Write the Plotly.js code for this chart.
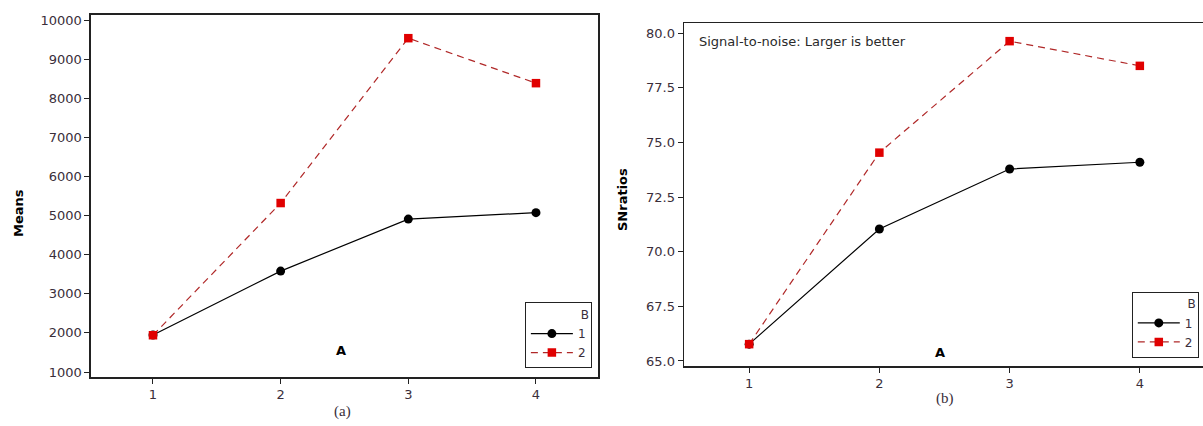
<!DOCTYPE html>
<html><head><meta charset="utf-8">
<script src="https://cdn.plot.ly/plotly-3.0.1.min.js"></script>
<style>body{margin:0;background:#fff}#c{width:1203px;height:426px}</style>
</head><body><div id="c"></div>
<script>
const levelsA = [1, 2, 3, 4];
const meansB1 = [1945, 3580, 4910, 5075];
const meansB2 = [1940, 5320, 9535, 8385];
const snB1 = [65.77, 71.04, 73.78, 74.09];
const snB2 = [65.77, 74.53, 79.63, 78.50];
const seriesNames = ['1', '2'];
const meansTicks = [1000, 2000, 3000, 4000, 5000, 6000, 7000, 8000, 9000, 10000];
const snTicks = [65, 67.5, 70, 72.5, 75, 77.5, 80];

const F = 'Tahoma, "DejaVu Sans", "Noto Sans", sans-serif';
const black = {color:'#000', width:1.2};
const red = {color:'#b02828', width:1.2, dash:'7px,5px'};
const mk1 = {symbol:'circle', size:9, color:'#000'};
const mk2 = {symbol:'square', size:8.5, color:'#e00000'};

const traces = [
  {x:levelsA, y:meansB1, name:seriesNames[0], mode:'lines+markers', line:black, marker:mk1, xaxis:'x', yaxis:'y', legend:'legend'},
  {x:levelsA, y:meansB2, name:seriesNames[1], mode:'lines+markers', line:red, marker:mk2, xaxis:'x', yaxis:'y', legend:'legend'},
  {x:levelsA, y:snB1, name:seriesNames[0], mode:'lines+markers', line:black, marker:mk1, xaxis:'x2', yaxis:'y2', legend:'legend2'},
  {x:levelsA, y:snB2, name:seriesNames[1], mode:'lines+markers', line:red, marker:mk2, xaxis:'x2', yaxis:'y2', legend:'legend2'}
];

const axBase = {showgrid:false, zeroline:false, showline:true, linecolor:'#222', linewidth:1.5,
  ticks:'outside', ticklen:5, tickcolor:'#222', tickfont:{family:F, size:13, color:'#3a2e3a'}, automargin:false};

const legBase = {bgcolor:'#fff', bordercolor:'#222', borderwidth:1, font:{family:F, size:12, color:'#3a2e3a'},
  title:{text:'B', side:'top right', font:{family:F, size:12, color:'#3a2e3a'}}, xanchor:'right', yanchor:'bottom',
  tracegroupgap:0, itemwidth:42};

const layout = {
  width:1203, height:426, margin:{l:0, r:0, t:0, b:0},
  paper_bgcolor:'#fff', plot_bgcolor:'#fff', showlegend:true,
  xaxis: Object.assign({}, axBase, {domain:[0.0756, 0.4971], range:[0.514, 4.486], tickvals:levelsA, mirror:true}),
  yaxis: Object.assign({}, axBase, {domain:[0.115, 0.9648], range:[872, 10128], tickvals:meansTicks, tickformat:'d', mirror:true}),
  xaxis2: Object.assign({}, axBase, {domain:[0.5686, 1], range:[0.5, 4.485], tickvals:levelsA, anchor:'y2', mirror:true}),
  yaxis2: Object.assign({}, axBase, {domain:[0.1408, 0.946], range:[64.77, 80.46], tickvals:snTicks, tickformat:'.1f', anchor:'x2'}),
  legend: Object.assign({}, legBase, {x:0.492, y:0.135}),
  legend2: Object.assign({}, legBase, {x:0.9965, y:0.16}),
  annotations:[
    {text:'<b>Means</b>', x:18, y:213, showarrow:false, textangle:-90, font:{family:F, size:13, color:'#000'}},
    {text:'<b>SNratios</b>', x:622, y:200, showarrow:false, textangle:-90, font:{family:F, size:13, color:'#000'}},
    {text:'<b>A</b>', x:341, y:350, showarrow:false, font:{family:F, size:13, color:'#000'}},
    {text:'<b>A</b>', x:940, y:352, showarrow:false, font:{family:F, size:13, color:'#000'}},
    {text:'(a)', x:342, y:411, showarrow:false, font:{family:'"Liberation Serif", serif', size:15, color:'#3a2e3a'}},
    {text:'(b)', x:945, y:398, showarrow:false, font:{family:'"Liberation Serif", serif', size:15, color:'#3a2e3a'}},
    {text:'Signal-to-noise: Larger is better', x:697, y:42, xanchor:'left', showarrow:false, font:{family:F, size:13, color:'#2a2a2a'}}
  ].map(a => Object.assign({xref:'paper', yref:'paper', xanchor:'center', yanchor:'middle'}, a, {x:a.x/1203, y:1 - a.y/426}))
};

Plotly.newPlot('c', traces, layout, {displayModeBar:false, staticPlot:true});
</script>
</body></html>
